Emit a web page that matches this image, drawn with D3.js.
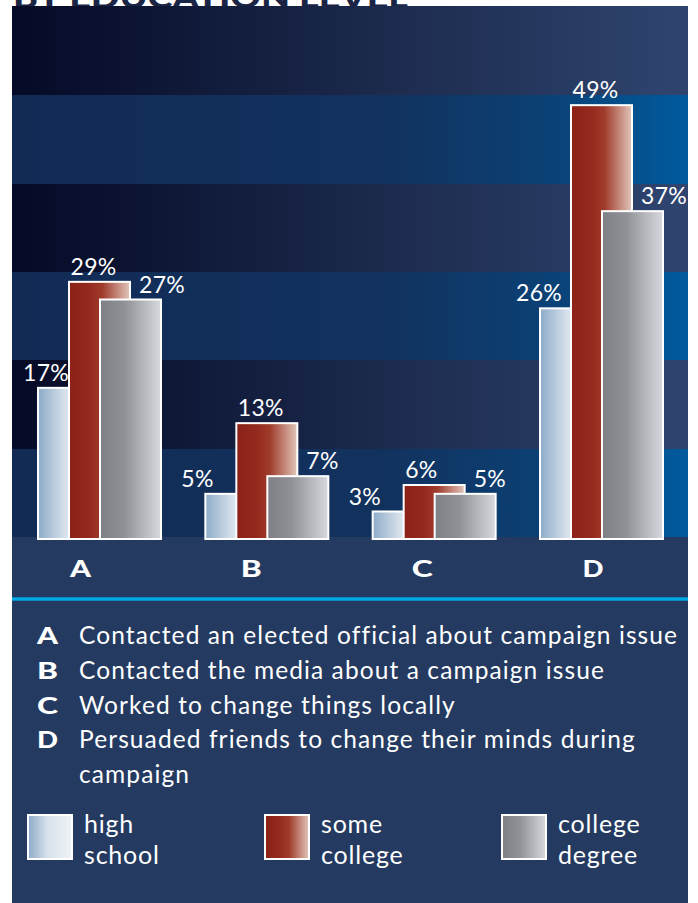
<!DOCTYPE html>
<html><head><meta charset="utf-8">
<script src="https://cdn.jsdelivr.net/npm/d3@7"></script>
<style>html,body{margin:0;padding:0;background:#fff;} svg{display:block;}</style>
</head><body>
<svg id="chart" width="698" height="903"></svg>
<script>
const title = "BY EDUCATION LEVEL";
const categories = ["A", "B", "C", "D"];
const descriptions = [
  "Contacted an elected official about campaign issue",
  "Contacted the media about a campaign issue",
  "Worked to change things locally",
  "Persuaded friends to change their minds during campaign"
];
const seriesKeys = ["hs", "sc", "cd"];
const seriesLabels = [["high", "school"], ["some", "college"], ["college", "degree"]];
const highSchool = [17, 5, 3, 26];
const someCollege = [29, 13, 6, 49];
const collegeDegree = [27, 7, 5, 37];
const bandValues = [0, 10, 20, 30, 40, 50, 60];

const FONT = "Lato, 'Open Sans', sans-serif";
const svg = d3.select("#chart");
const panel = {x0: 12, x1: 688, y0: 6, y1: 903};

const y = d3.scaleLinear().domain([0, 60]).range([537, 7]);
const x0 = d3.scaleBand().domain(categories).range([37, 664]).paddingInner(0.253).paddingOuter(0);
const x1 = d3.scalePoint().domain(seriesKeys).range([0, 62]);
const barW = 63;
const xLetter = d3.scalePoint().domain(categories).range([80.5, 593]);

const defs = svg.append("defs");
function grad(id, stops, user) {
  const g = defs.append("linearGradient").attr("id", id).attr("x1", user ? panel.x0 : 0).attr("x2", user ? panel.x1 : 1)
    .attr("y1", 0).attr("y2", 0);
  if (user) g.attr("gradientUnits", "userSpaceOnUse");
  stops.forEach(s => g.append("stop").attr("offset", s[0]).attr("stop-color", s[1]));
}
grad("darkBand", [[0, "#050a26"], [0.5, "#1a2749"], [1, "#2f4570"]], true);
grad("blueBand", [[0, "#112b55"], [0.55, "#12325e"], [0.8, "#0b4176"], [1, "#005b9e"]], true);
grad("g_hs", [[0, "#8dabc8"], [0.45, "#d8e2ec"], [1, "#f0f3f6"]]);
grad("g_sc", [[0, "#8b2117"], [0.35, "#952b1f"], [0.55, "#a03c2c"], [1, "#e2c7bb"]]);
grad("g_cd", [[0, "#7e8085"], [0.4, "#8f9196"], [1, "#d6dade"]]);

// title (mostly cropped above the panel, as in the source)
svg.append("text").attr("x", 13).attr("y", 8).text(title)
  .attr("font-family", FONT).attr("font-weight", 900).attr("font-size", 30)
  .attr("fill", "#1a2444").attr("textLength", 395).attr("lengthAdjust", "spacingAndGlyphs");

// background bands
const bands = d3.range(bandValues.length - 1).map(i => ({lo: bandValues[i], hi: bandValues[i + 1], i}));
const bandTop = d => d.i === bands.length - 1 ? panel.y0 : Math.round(y(d.hi));
svg.append("g").attr("shape-rendering", "crispEdges").selectAll("rect").data(bands).join("rect")
  .attr("x", panel.x0).attr("width", panel.x1 - panel.x0)
  .attr("y", bandTop)
  .attr("height", d => Math.round(y(d.lo)) - bandTop(d))
  .attr("fill", d => d.i % 2 ? "url(#darkBand)" : "url(#blueBand)");

// lower area
svg.append("rect").attr("shape-rendering", "crispEdges").attr("x", panel.x0).attr("width", panel.x1 - panel.x0)
  .attr("y", Math.round(y(0))).attr("height", panel.y1 - Math.round(y(0))).attr("fill", "#243a60");
svg.append("line").attr("x1", panel.x0).attr("x2", panel.x1).attr("y1", 599).attr("y2", 599)
  .attr("stroke", "#00a9e6").attr("stroke-width", 3.5);

// bars
const rows = categories.map((c, i) => ({cat: c, vals: {hs: highSchool[i], sc: someCollege[i], cd: collegeDegree[i]}}));
const groups = svg.append("g").selectAll("g").data(rows).join("g")
  .attr("transform", d => `translate(${x0(d.cat)},0)`);
groups.selectAll("rect").data(d => seriesKeys.map(k => ({k, v: d.vals[k]}))).join("rect")
  .attr("x", d => x1(d.k) + 1).attr("width", barW - 2)
  .attr("y", d => y(d.v) + 1).attr("height", d => y(0) - y(d.v) + 1)
  .attr("fill", d => `url(#g_${d.k})`).attr("stroke", "#fff").attr("stroke-width", 2);

// value labels
groups.selectAll("text").data(d => seriesKeys.map(k => ({k, v: d.vals[k], gx: x0(d.cat)}))).join("text")
  .attr("x", d => {
    let xx;
    if (d.k === "hs") xx = x1(d.k) - 23;
    else if (d.k === "sc") xx = x1(d.k) + 2.5;
    else xx = x1(d.k) + barW - 23;
    return Math.max(xx, panel.x0 + 11 - d.gx);
  })
  .attr("y", d => y(d.v) - 6)
  .attr("font-family", FONT).attr("font-size", 23).attr("letter-spacing", 0.3).attr("fill", "#fff")
  .text(d => d.v + "%");

// category letters
svg.append("g").selectAll("text").data(categories).join("text")
  .attr("x", d => xLetter(d) - 10.5).attr("y", 577)
  .attr("font-family", FONT).attr("font-weight", 900).attr("font-size", 23).attr("fill", "#fff")
  .attr("textLength", 21).attr("lengthAdjust", "spacingAndGlyphs")
  .text(d => d);

// descriptions
const descG = svg.append("g");
let lineY = 644;
const lineH = 34.8;
const descStyle = t => t.attr("font-family", FONT).attr("font-size", 24.5).attr("letter-spacing", 1.1).attr("fill", "#fff");
categories.forEach((c, i) => {
  descG.append("text").attr("x", 37).attr("y", lineY).text(c)
    .attr("font-family", FONT).attr("font-weight", 900).attr("font-size", 23).attr("fill", "#fff")
    .attr("textLength", 21).attr("lengthAdjust", "spacingAndGlyphs");
  const words = descriptions[i].split(" ");
  let t = descStyle(descG.append("text").attr("x", 79).attr("y", lineY));
  let line = [];
  words.forEach(w => {
    line.push(w);
    t.text(line.join(" "));
    if (t.node().getComputedTextLength() > 604 && line.length > 1) {
      line.pop();
      t.text(line.join(" "));
      line = [w];
      lineY += lineH;
      t = descStyle(descG.append("text").attr("x", 79).attr("y", lineY)).text(w);
    }
  });
  lineY += lineH;
});

// legend
const xLeg = d3.scalePoint().domain(seriesKeys).range([27, 501]);
const leg = svg.append("g").selectAll("g").data(seriesKeys).join("g")
  .attr("transform", d => `translate(${xLeg(d)},814)`);
leg.append("rect").attr("x", 1).attr("y", 1).attr("width", 44).attr("height", 44)
  .attr("fill", d => `url(#g_${d})`).attr("stroke", "#fff").attr("stroke-width", 2);
leg.each(function(d, i) {
  d3.select(this).selectAll("text").data(seriesLabels[i]).join("text")
    .attr("x", 57).attr("y", (t, j) => 19 + j * 31)
    .attr("font-family", FONT).attr("font-size", 25).attr("letter-spacing", 0.8).attr("fill", "#fff")
    .text(t => t);
});
</script>
</body></html>
